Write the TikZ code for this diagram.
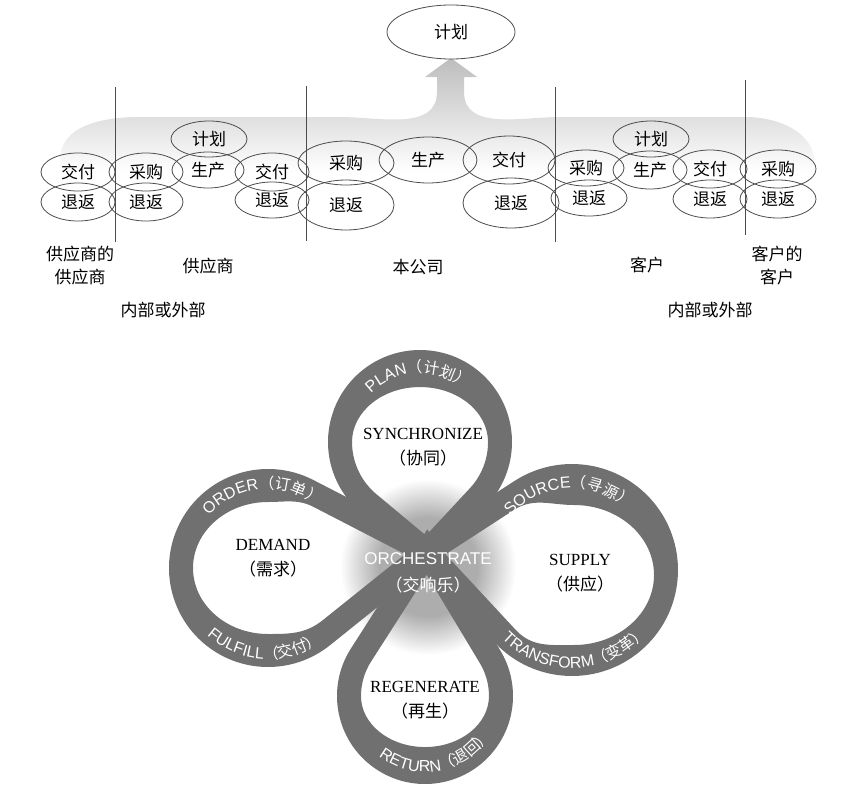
\documentclass[tikz,border=0pt]{standalone}
\usepackage{fontspec}
\setmainfont{Liberation Serif}
\newfontfamily\cjk{Noto Sans CJK SC}
\newfontfamily\ribsans{Liberation Sans}
\usetikzlibrary{shapes.geometric,decorations.text}

\definecolor{ribbon}{gray}{0.44}
\definecolor{edge}{gray}{0.3}
\newcommand\zh{\cjk\fontsize{17}{23}\selectfont}
\newcommand\latn{\fontsize{17}{25}\selectfont}
\newcommand\riblat{\ribsans\fontsize{16}{18}\selectfont\color{white}}
\newcommand\ribzh{\cjk\fontsize{15.5}{18}\selectfont\color{white}}
\pgfdeclareradialshading{blob}{\pgfpoint{0bp}{0bp}}{color(0bp)=(black!32); color(14bp)=(black!32); color(25bp)=(white); color(50bp)=(white)}

\tikzset{
  oval/.style={ellipse, draw=edge, line width=0.8pt, inner sep=0pt, font=\zh},
  ovs/.style={oval, minimum width=74, minimum height=38},
  ovl/.style={oval, minimum width=96, minimum height=48},
  tag/.style={font=\zh, align=center},
  lobetext/.style={font=\latn, align=center},
  ribtext/.style={decorate, decoration={text along path, text align=center, text={#1}}},
}

\begin{document}
\begin{tikzpicture}[x=1pt,y=1pt]
\useasboundingbox (0,0) rectangle (856,-784);

% flow band with the arrow up to the plan
\shade[top color=black!26, bottom color=white]
  (60,-172) -- (60,-160) to[out=90,in=180] (140,-117) -- (340,-117)
  to[out=0,in=-90] (437,-92) -- (437,-77) -- (425,-77) -- (451,-58)
  -- (477,-77) -- (464,-77) -- (464,-92) to[out=-90,in=180] (560,-117)
  -- (745,-117) to[out=0,in=90] (815,-165) -- (815,-172) -- cycle;

\node[oval, fill=white, minimum width=128, minimum height=54] (plantop) at (451,-32) {计划};

\foreach \x/\a/\b in {115/87/242, 306/86/241, 555/87/242, 745/80/235}
  \draw[edge, line width=0.9pt] (\x,-\a) -- (\x,-\b);

% supplier's supplier
\node[ovs] (sd1) at (78,-172) {交付};
\node[ovs] (sr1) at (78,-202) {退返};
% supplier
\node[ovs] (ss2) at (146,-172) {采购};
\node[ovs] (sr2) at (146,-202) {退返};
\node[ovs, minimum width=76, minimum height=36] (sp2) at (209,-139) {计划};
\node[ovs, minimum width=72, minimum height=36] (sm2) at (208,-170) {生产};
\node[ovs] (sd2) at (272,-172) {交付};
\node[ovs, minimum height=36] (sr2b) at (272,-200) {退返};
% company
\node[ovl, minimum height=44] (ss3) at (346,-163) {采购};
\node[ovl, minimum height=50] (sr3) at (346,-205) {退返};
\node[ovl, minimum width=98, minimum height=46] (sm3) at (428,-160) {生产};
\node[ovl, minimum width=92] (sd3) at (509,-160) {交付};
\node[ovl, minimum height=50] (sr3b) at (511,-203) {退返};
% customer
\node[ovs, minimum width=76, minimum height=36] (ss4) at (586,-168) {采购};
\node[ovs, minimum width=76, minimum height=36] (sr4) at (589,-198) {退返};
\node[ovs, minimum width=76, minimum height=36] (sp4) at (651,-139) {计划};
\node[ovs] (sm4) at (650,-170) {生产};
\node[ovs] (sd4) at (710,-169) {交付};
\node[ovs] (sr4b) at (710,-199) {退返};
% customer's customer
\node[ovs, minimum width=76] (ss5) at (778,-169) {采购};
\node[ovs, minimum width=76] (sr5) at (778,-199) {退返};

\node[tag] (lss) at (80,-266) {供应商的\\供应商};
\node[tag] (lsup) at (208,-266) {供应商};
\node[tag] (lcom) at (418,-267) {本公司};
\node[tag] (lcus) at (647,-265) {客户};
\node[tag] (lcc) at (777,-266) {客户的\\客户};
\node[tag] (lio1) at (163,-310) {内部或外部};
\node[tag] (lio2) at (710,-310) {内部或外部};

% four loops
\coordinate (cplan) at (420,-442);
\coordinate (cdem) at (268,-568);
\coordinate (csup) at (572,-570);
\coordinate (creg) at (425,-696);

\shade[shading=blob] (428,-567) circle[radius=88];

\fill[ribbon, even odd rule]
  (428.0,-568.5) -- ([shift={(-42.9:92)}]cplan) arc[start angle=-42.9, end angle=230.1, radius=92] -- cycle
  (426.0,-535.5) -- (376.4,-494.2) arc[start angle=-129.9, end angle=-180, radius=68]
  arc[start angle=180, end angle=0, x radius=68, y radius=55]
  arc[start angle=0, end angle=-42.9, radius=68] -- cycle;
\fill[ribbon, even odd rule]
  (448.9,-549.8) -- ([shift={(62.75:99)}]cdem) arc[start angle=62.75, end angle=308.75, radius=99] -- cycle
  (405.1,-554.2) -- (313.7,-507) to[out=152.7,in=0] (268,-502)
  arc[start angle=90, end angle=270, x radius=75, y radius=66]
  to[out=0,in=218.7] (323,-620) -- cycle;
\fill[ribbon, even odd rule]
  (408.5,-549.7) -- ([shift={(222.85:106)}]csup) arc[start angle=222.85, end angle=482.95, radius=106] -- cycle
  (445.5,-554.3) -- (513.8,-510) to[out=32.97,in=180] (574,-505)
  arc[start angle=90, end angle=-90, x radius=80, y radius=70]
  to[out=180,in=-47.13] (515.8,-630) -- cycle;
\fill[ribbon, even odd rule]
  (427.3,-529.3) -- ([shift={(147.34:88)}]creg) arc[start angle=147.34, end angle=391.06, radius=88] -- cycle
  (426.7,-574.7) -- (371.1,-661.5) arc[start angle=147.34, end angle=180, radius=64]
  arc[start angle=180, end angle=360, x radius=64, y radius=51]
  arc[start angle=0, end angle=31.06, radius=64] -- cycle;

\path[ribtext={|\riblat|PLAN|\ribzh|（计划）}] ([shift={(167:69)}]cplan) arc[start angle=167, end angle=17, radius=69];
\path[ribtext={|\riblat|ORDER|\ribzh|（订单）}] ([shift={(170:79)}]cdem) arc[start angle=170, end angle=20, radius=79];
\path[ribtext={|\riblat|SOURCE|\ribzh|（寻源）}] ([shift={(168:82)}]csup) arc[start angle=168, end angle=18, radius=82];
\path[ribtext={|\riblat|FULFILL|\ribzh|（交付）}] ([shift={(190:91)}]cdem) arc[start angle=190, end angle=344, radius=91];
\path[ribtext={|\riblat|TRANSFORM|\ribzh|（变革）}] ([shift={(192:98)}]csup) arc[start angle=192, end angle=352, radius=98];
\path[ribtext={|\riblat|RETURN|\ribzh|（退回）}] ([shift={(201:76)}]creg) arc[start angle=201, end angle=361, radius=76];

\node[lobetext] (sync) at (423,-447) {SYNCHRONIZE\\{\zh（协同）}};
\node[lobetext] (dem) at (273,-558) {DEMAND\\{\zh（需求）}};
\node[lobetext] (sup) at (580,-573) {SUPPLY\\{\zh（供应）}};
\node[lobetext] (regen) at (425,-700) {REGENERATE\\{\zh（再生）}};
\node[lobetext, text=white, font=\ribsans\fontsize{17}{27}\selectfont] (orch) at (428,-573) {ORCHESTRATE\\{\cjk（交响乐）}};
\end{tikzpicture}
\end{document}
